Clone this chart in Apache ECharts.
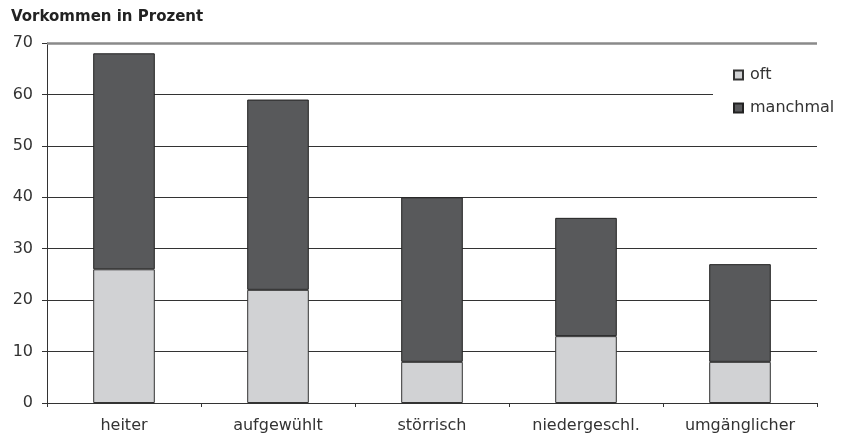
<!DOCTYPE html>
<html>
<head>
<meta charset="utf-8">
<script src="https://cdn.jsdelivr.net/npm/echarts@6/dist/echarts.min.js"></script>
<style>html,body{margin:0;padding:0;background:#fff}#c{width:842px;height:437px}</style>
</head>
<body>
<div id="c"></div>
<script>
var title = 'Vorkommen in Prozent';
var categories = ['heiter', 'aufgewühlt', 'störrisch', 'niedergeschl.', 'umgänglicher'];
var oft = [26, 22, 8, 13, 8];
var manchmal = [42, 37, 32, 23, 19];
var seriesNames = ['oft', 'manchmal'];
var yTicks = [0, 10, 20, 30, 40, 50, 60, 70];

var FONT = 'DejaVu Sans';
var chart = echarts.init(document.getElementById('c'), null, {renderer: 'canvas'});
chart.setOption({
  animation: false,
  backgroundColor: '#fff',
  title: {
    text: title, left: 11, top: 10, padding: 0,
    textStyle: {fontFamily: FONT, fontSize: 15, fontWeight: 'bold', color: '#222'}
  },
  grid: {left: 47, right: 25, top: 43, bottom: 34, containLabel: false},
  legend: {
    orient: 'vertical', left: 713, top: 52,
    padding: [15, 10, 10, 20],
    backgroundColor: '#fff',
    itemWidth: 9, itemHeight: 9, itemGap: 17,
    icon: 'rect',
    textStyle: {fontFamily: FONT, fontSize: 16, color: '#333', padding: [0, 0, 0, 2]},
    data: seriesNames
  },
  xAxis: {
    type: 'category', data: categories,
    axisLine: {lineStyle: {color: '#333', width: 1}},
    axisTick: {show: true, length: 4, lineStyle: {color: '#333'}},
    axisLabel: {fontFamily: FONT, fontSize: 16, color: '#333', margin: 15},
    splitLine: {show: false}
  },
  yAxis: {
    type: 'value', min: yTicks[0], max: yTicks[yTicks.length - 1], interval: 10,
    axisLine: {show: true, lineStyle: {color: '#333', width: 1}},
    axisTick: {show: true, length: 5, lineStyle: {color: '#333'}},
    axisLabel: {fontFamily: FONT, fontSize: 16, color: '#333', margin: 14},
    splitLine: {show: true, lineStyle: {color: ['#333', '#333', '#333', '#333', '#333', '#333', '#333', '#8a8a8a'], width: 1}}
  },
  series: [
    {
      name: seriesNames[0], type: 'bar', stack: 'a', data: oft, barWidth: '40%',
      itemStyle: {color: '#d1d2d4', borderColor: '#333', borderWidth: 1}
    },
    {
      name: seriesNames[1], type: 'bar', stack: 'a', data: manchmal, barWidth: '40%',
      itemStyle: {color: '#58595b', borderColor: '#222', borderWidth: 1},
      markLine: {
        silent: true, symbol: 'none', label: {show: false},
        lineStyle: {color: '#8a8a8a', width: 2.5, type: 'solid'},
        data: [{yAxis: yTicks[yTicks.length - 1]}]
      }
    }
  ]
});
</script>
</body>
</html>
